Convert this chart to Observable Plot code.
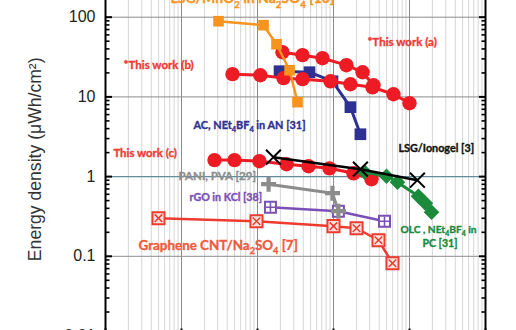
<!DOCTYPE html>
<html><head><meta charset="utf-8">
<script src="https://cdn.jsdelivr.net/npm/d3@7"></script>
<script src="https://cdn.jsdelivr.net/npm/@observablehq/plot@0.6"></script>
<style>
html,body{margin:0;padding:0;background:#fff;overflow:hidden;}
#wrap{position:relative;width:516px;height:330px;overflow:hidden;background:#fff;}
#wrap svg{position:absolute;left:0;top:-62.7px;}
</style></head><body><div id="wrap"></div>
<script>
// Power density (mW/cm²) and energy density (μWh/cm²) for each device
const mno2Power = [0.307, 1.20, 1.78, 2.64, 3.36];
const mno2Energy = [89.1, 79.4, 45.8, 21.6, 8.59];

const workAPower = [2.13, 3.91, 7.16, 14.8, 24.1, 33.6];
const workAEnergy = [36.4, 33.4, 30.6, 25.0, 20.4, 14.0];

const workBPower = [0.469, 1.09, 2.20, 3.91, 9.14, 16.7, 32.6, 61.5, 100];
const workBEnergy = [19.3, 18.7, 17.2, 16.7, 15.7, 14.4, 13.2, 10.8, 8.34];

const acPower = [1.95, 4.83, 9.70, 16.7, 22.6];
const acEnergy = [21.0, 20.4, 15.7, 7.43, 3.40];

const workCPower = [0.272, 0.498, 1.06, 2.41, 4.69, 8.85, 18.3, 31.6];
const workCEnergy = [1.61, 1.61, 1.56, 1.43, 1.35, 1.27, 1.10, 0.927];

const ionogelPower = [1.62, 22.6, 127];
const ionogelEnergy = [1.75, 1.24, 0.90];

const olcPower = [25.6, 49.8, 69.5, 131, 162, 195];
const olcEnergy = [1.14, 1.01, 0.851, 0.568, 0.463, 0.357];

const paniPower = [1.40, 9.70, 11.6];
const paniEnergy = [0.803, 0.619, 0.368];

const rgoPower = [1.48, 11.6, 46.9];
const rgoEnergy = [0.413, 0.368, 0.275];

const cntPower = [0.0498, 0.970, 10.0, 20.1, 39.1, 59.7];
const cntEnergy = [0.301, 0.275, 0.239, 0.225, 0.159, 0.0819];

// Annotation texts and their anchor points (left edge, vertical middle)
const labelTexts = ["LSG/MnO₂ in Na₂SO₄ [10]", "*This work (b)", "*This work (a)", "AC, NEt₄BF₄ in AN [31]",
  "LSG/Ionogel [3]", "This work (c)", "PANI, PVA [29]", "rGO in KCl [38]", "Graphene CNT/Na₂SO₄ [7]",
  "OLC , NEt₄BF₄ in", "PC [31]"];
const labelPower = [0.0716, 0.0173, 28.0, 0.144, 71.6, 0.0127, 0.0914, 0.127, 0.0272, 76.2, 148];
const labelEnergy = [170, 25.0, 49.0, 4.42, 2.27, 1.97, 1.01, 0.552, 0.134, 0.216, 0.146];

const yTickValues = [0.01, 0.1, 1, 10, 100];
const yTitle = "Energy density (μWh/cm²)";

const C = {red:"#ED1C24", orange:"#F7941D", navy:"#2E3192", green:"#1B8A3B", gray:"#8C8C8C",
  purple:"#7A50B5", cnt:"#EE3B2F", black:"#000"};
const labelColors = [C.orange, "#EF3A33", "#EF3A33", C.navy, "#111", "#EF3A33", "#8E8E8E", C.purple, "#F05A3C", C.green, C.green];
const labelSizes = [14, 11.5, 11.5, 10.9, 10.8, 11.4, 11.5, 10.7, 13.4, 10.2, 10.6];

const pts = (P, E) => P.map((p, i) => ({p, e: E[i]}));

const decades = [0.01, 0.1, 1, 10, 100, 1000];
const minorX = [], minorY = [];
for (const d of decades.slice(0, -1)) for (let k = 2; k <= 9; k++) { minorX.push(d * k); minorY.push(d * k); }

function seriesMarks(P, E, stroke, sw, dotOpts) {
  const data = pts(P, E);
  return [
    Plot.line(data, {x: "p", y: "e", stroke, strokeWidth: sw}),
    ...dotOpts.map(o => Plot.dot(data, {x: "p", y: "e", ...o}))
  ];
}

const marks = [
  Plot.gridX(minorX, {stroke: "#d6d6d6", strokeOpacity: 1}),
  Plot.gridX(decades, {stroke: "#8c8c8c", strokeOpacity: 1}),
  Plot.gridY([0.01, 0.1, 10, 100, 1000], {stroke: "#8c8c8c", strokeOpacity: 1}),
  Plot.gridY([1], {stroke: "#5f8e9a", strokeOpacity: 1, strokeWidth: 1.3}),

  ...seriesMarks(cntPower, cntEnergy, C.cnt, 2.5, [
    {symbol: "square", r: 6.8, fill: "#fde3df", stroke: C.cnt, strokeWidth: 2},
    {symbol: "times", r: 3.5, stroke: C.cnt, strokeWidth: 1.5}]),
  ...seriesMarks(rgoPower, rgoEnergy, C.purple, 2.5, [
    {symbol: "square", r: 6.2, fill: "#fff", stroke: C.purple, strokeWidth: 2},
    {symbol: "plus", r: 3.1, stroke: C.purple, strokeWidth: 1.6}]),
  ...seriesMarks(paniPower, paniEnergy, C.gray, 3, [
    {symbol: "plus", r: 4.9, stroke: C.gray, strokeWidth: 4.2}]),
  ...seriesMarks(workCPower, workCEnergy, C.red, 3, [
    {symbol: "circle", r: 7.2, fill: C.red}]),
  ...seriesMarks(olcPower, olcEnergy, C.green, 3, [
    {symbol: "diamond2", r: 7.0, fill: C.green}]),
  ...seriesMarks(ionogelPower, ionogelEnergy, C.black, 2.5, [
    {symbol: "times", r: 6.8, stroke: C.black, strokeWidth: 2}]),
  ...seriesMarks(acPower, acEnergy, C.navy, 3, [
    {symbol: "square", r: 6.6, fill: C.navy}]),
  ...seriesMarks(workAPower, workAEnergy, C.red, 3, [
    {symbol: "circle", r: 7.2, fill: C.red}]),
  ...seriesMarks(workBPower, workBEnergy, C.red, 3, [
    {symbol: "circle", r: 7.2, fill: C.red}]),
  ...seriesMarks(mno2Power, mno2Energy, C.orange, 2.5, [
    {symbol: "square", r: 6.0, fill: C.orange}]),

  ...labelTexts.map((t, i) => Plot.text([t], {
    x: [labelPower[i]], y: [labelEnergy[i]], text: d => d, textAnchor: "start",
    fill: labelColors[i], stroke: labelColors[i], strokeWidth: 0.35,
    fontFamily: "Lato", fontWeight: "bold", fontSize: labelSizes[i], lineAnchor: "middle"
  })),

  Plot.frame({stroke: "#000", strokeWidth: 2}),
  Plot.axisY(decades, {anchor: "left", tickSize: -7, strokeWidth: 2, fill: "none"}),
  Plot.axisY(minorY, {anchor: "left", tickSize: -4.5, strokeWidth: 1.6, fill: "none"}),
  Plot.axisY(decades, {anchor: "right", tickSize: -7, strokeWidth: 2, fill: "none"}),
  Plot.axisY(minorY, {anchor: "right", tickSize: -4.5, strokeWidth: 1.6, fill: "none"}),
  Plot.axisX(decades, {anchor: "bottom", tickSize: -7, strokeWidth: 2, fill: "none"}),
  Plot.axisY(yTickValues, {anchor: "left", tickSize: 0, tickPadding: 10, stroke: "none", label: null,
    tickFormat: d => String(d), fontSize: 16, fontFamily: "Liberation Sans", fill: "#222"}),
  Plot.text([yTitle], {text: d => d, y: [1.65], frameAnchor: "left", dx: -70.5, rotate: -90,
    fontSize: 17.6, fontFamily: "Liberation Sans", fill: "#333", textAnchor: "middle", lineAnchor: "middle"})
];

const svg = Plot.plot({
  width: 516, height: 429,
  marginLeft: 105, marginRight: 31, marginTop: 0, marginBottom: 30.5,
  x: {type: "log", domain: [0.01, 1000], axis: null},
  y: {type: "log", domain: [0.01, 1000], axis: null},
  marks
});

// turn unicode subscript digits into real subscripts
const subMap = {"₂": "2", "₄": "4"};
d3.select(svg).selectAll("text").each(function () {
  const el = this;
  if (el.querySelector("tspan")) return;
  const t = el.textContent;
  if (!/[₂₄]/.test(t)) return;
  const fs = parseFloat(el.closest("g").getAttribute("font-size")) || 11.5;
  el.textContent = "";
  const runs = t.match(/[₂₄]+|[^₂₄]+/g);
  let shifted = false;
  for (const r of runs) {
    const isSub = /[₂₄]/.test(r);
    const ts = d3.select(el).append("tspan");
    if (isSub) {
      ts.text(r.replace(/[₂₄]/g, c => subMap[c])).attr("font-size", fs * 0.68).attr("dy", shifted ? 0 : fs * 0.3);
      shifted = true;
    } else {
      ts.text(r);
      if (shifted) { ts.attr("dy", -fs * 0.3); shifted = false; }
    }
  }
});

document.getElementById("wrap").appendChild(svg);
</script>
</body></html>
